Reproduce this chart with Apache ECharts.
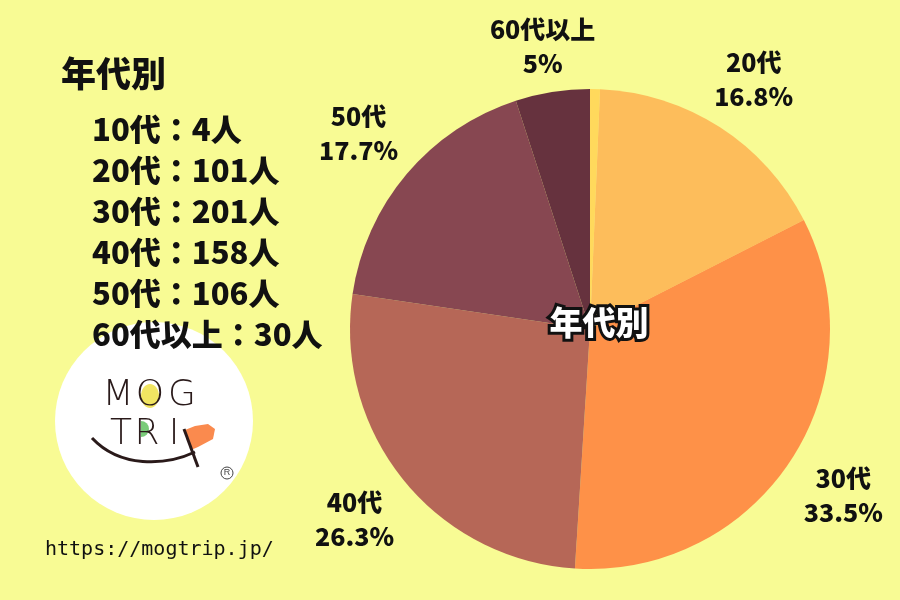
<!DOCTYPE html>
<html><head><meta charset="utf-8">
<script src="https://cdn.jsdelivr.net/npm/echarts@6/dist/echarts.min.js"></script>
<style>html,body{margin:0;padding:0;background:#F8FB94;}#c{width:900px;height:600px;}</style>
</head><body><div id="c"></div>
<script>
const categories = ['10代', '20代', '30代', '40代', '50代', '60代以上'];
const values = [4, 101, 201, 158, 106, 30];
const sliceColors = ['#FFD95C', '#FDBD5B', '#FE9148', '#B66757', '#874751', '#66323E'];
const listTitle = '年代別';
const url = 'https://mogtrip.jp/';

const F = '"Noto Sans CJK JP", "Noto Sans", sans-serif';
const chart = echarts.init(document.getElementById('c'));
const pieData = categories.map((c, i) => ({ name: c, value: values[i], itemStyle: { color: sliceColors[i] } }));
const labelData = categories.map((c, i) => {
  const d = { name: c, value: values[i], label: { show: i !== 0 } };
  if (i === categories.length - 1) d.label.formatter = '{pad|}\n{b}\n{d}%';
  if (i === 1) d.label.formatter = '{pad2|}\n{b}\n{d}%';
  return d;
});

const listLines = categories.map((c, i) => ({
  type: 'text', left: 92, top: 114 + i * 41, z: 20,
  style: { text: c + '：' + values[i] + '人', font: '900 31px ' + F, fill: '#111' }
}));

const logoFont = '300 36px "DejaVu Sans", sans-serif';
const logoInk = '#2a1a1a';
const letter = (t, x, y) => ({ type: 'text', x: x, y: y, z: 4, style: { text: t, font: logoFont, fill: logoInk, align: 'center', verticalAlign: 'middle' } });

chart.setOption({
  backgroundColor: '#F8FB94',
  animation: false,
  series: [
    {
      type: 'pie', center: [590, 329], radius: [0, 240], startAngle: 90, clockwise: true,
      data: pieData, label: { show: false }, labelLine: { show: false }, silent: true,
      percentPrecision: 1
    },
    {
      type: 'pie', center: [590, 329], radius: [240, 360], startAngle: 90, clockwise: true,
      data: labelData, silent: true, percentPrecision: 1,
      itemStyle: { color: 'rgba(0,0,0,0)' },
      label: {
        position: 'inside', formatter: '{b}\n{d}%', color: '#111',
        fontFamily: F, fontWeight: 900, fontSize: 25, lineHeight: 34, align: 'center',
        rich: { pad: { lineHeight: 34, fontSize: 10 }, pad2: { lineHeight: 10, fontSize: 8 } }
      },
      labelLine: { show: false }
    }
  ],
  graphic: [
    { type: 'text', left: 61, top: 56, z: 20, style: { text: listTitle, font: '900 35px ' + F, fill: '#111' } },
    ...listLines,
    { type: 'text', x: 599, y: 322, z: 10, style: { text: listTitle, font: '900 33px ' + F, fill: '#fff', stroke: '#111', lineWidth: 6, align: 'center', verticalAlign: 'middle' } },
    { type: 'circle', shape: { cx: 154, cy: 421, r: 99 }, style: { fill: '#fff' }, z: 1 },
    { type: 'ellipse', shape: { cx: 150, cy: 396, rx: 9, ry: 12 }, style: { fill: '#F1E562' }, z: 2 },
    { type: 'sector', shape: { cx: 141, cy: 429, r: 8, startAngle: -Math.PI / 2, endAngle: Math.PI / 2 }, style: { fill: '#7ACB7A' }, z: 2 },
    { type: 'polygon', shape: { points: [[185, 430], [195, 426], [208, 424], [215, 429], [213, 439], [198, 447], [191, 450]] }, style: { fill: '#FA8A4E' }, z: 2 },
    letter('M', 118, 396), letter('O', 150, 396), letter('G', 182, 396),
    letter('T', 121, 435), letter('R', 147, 435), letter('I', 174, 435),
    { type: 'bezierCurve', z: 4, shape: { x1: 92, y1: 438, x2: 195, y2: 452, cpx1: 120, cpy1: 468, cpx2: 165, cpy2: 466 }, style: { stroke: logoInk, lineWidth: 3, fill: null } },
    { type: 'line', z: 4, shape: { x1: 184, y1: 429, x2: 198, y2: 467 }, style: { stroke: logoInk, lineWidth: 3 } },
    { type: 'circle', z: 4, shape: { cx: 227, cy: 473, r: 6 }, style: { fill: null, stroke: '#444', lineWidth: 1 } },
    { type: 'text', x: 227, y: 473, z: 4, style: { text: 'R', font: '9px sans-serif', fill: '#444', align: 'center', verticalAlign: 'middle' } },
    { type: 'text', left: 45, top: 540, style: { text: url, font: '20px "DejaVu Sans Mono", monospace', fill: '#111' } }
  ]
});
</script></body></html>
